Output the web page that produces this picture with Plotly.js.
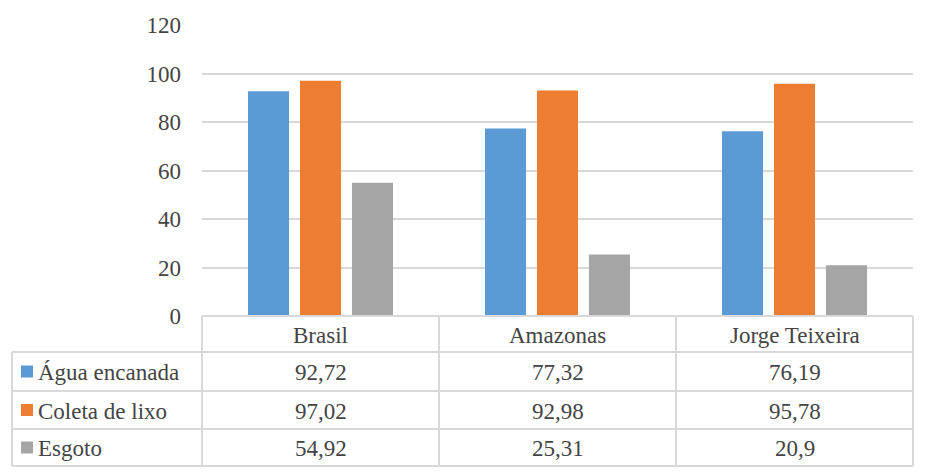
<!DOCTYPE html>
<html>
<head>
<meta charset="utf-8">
<script src="https://cdn.plot.ly/plotly-3.0.1.min.js"></script>
<style>html,body{margin:0;padding:0;background:#fff;}</style>
</head>
<body>
<div id="chart" style="width:932px;height:474px"></div>
<script>
const categories = ["Brasil", "Amazonas", "Jorge Teixeira"];
const seriesNames = ["Água encanada", "Coleta de lixo", "Esgoto"];
const aguaEncanada = [92.72, 77.32, 76.19];
const coletaLixo = [97.02, 92.98, 95.78];
const esgoto = [54.92, 25.31, 20.9];
const yTicks = [0, 20, 40, 60, 80, 100, 120];

const seriesValues = [aguaEncanada, coletaLixo, esgoto];
const colors = ["#5b9bd5", "#ed7d31", "#a5a5a5"];

const W = 932, H = 474;
const L = 202, R = 913, T = 25, B = 316;
const pw = R - L, ph = B - T;
const px = x => (x - L) / pw;
const py = y => (B - y) / ph;

const gridCol = "#d9d9d9";
const serifFont = () => ({family: "Liberation Serif", size: 23});

const traces = seriesValues.map((vals, i) => ({
  type: "bar", x: categories, y: vals, name: seriesNames[i],
  marker: {color: colors[i]}, hoverinfo: "skip"
}));

const fmt = v => String(v).replace(".", ",");

const tableLeft = 12;
const headerBottom = 352;
const rowBottoms = [391, 429, 466];
const rowTops = [headerBottom, rowBottoms[0], rowBottoms[1]];
const colEdge = i => L + i * pw / categories.length;

const shapes = [];
const line = (x0, y0, x1, y1) => shapes.push({
  type: "line", xref: "paper", yref: "paper",
  x0: px(x0), x1: px(x1), y0: py(y0), y1: py(y1),
  line: {color: gridCol, width: 2}
});
line(L, B, R, B);
line(tableLeft, headerBottom, R, headerBottom);
rowBottoms.forEach(y => line(tableLeft, y, R, y));
line(tableLeft, headerBottom, tableLeft, rowBottoms[2]);
for (let i = 0; i <= categories.length; i++) line(colEdge(i), B, colEdge(i), rowBottoms[2]);

seriesNames.forEach((n, s) => {
  const cy = (rowTops[s] + rowBottoms[s]) / 2;
  shapes.push({
    type: "rect", xref: "paper", yref: "paper",
    x0: px(21), x1: px(33), y0: py(cy - 6), y1: py(cy + 6),
    fillcolor: colors[s], line: {width: 0}
  });
});

const annotations = [];
const txt = (x, y, text, anchor) => annotations.push({
  xref: "paper", yref: "paper", x: px(x), y: py(y), text: text,
  showarrow: false, xanchor: anchor || "center", yanchor: "middle", font: serifFont()
});
categories.forEach((c, i) => {
  const cx = (colEdge(i) + colEdge(i + 1)) / 2;
  txt(cx, (B + headerBottom) / 2 + 1, c);
  seriesValues.forEach((vals, s) => {
    txt(cx, (rowTops[s] + rowBottoms[s]) / 2 + 1, fmt(vals[i]));
  });
});
seriesNames.forEach((n, s) => {
  txt(36, (rowTops[s] + rowBottoms[s]) / 2 + 1, n, "left");
});

const layout = {
  width: W, height: H,
  margin: {l: L, r: W - R, t: T, b: H - B, pad: 0},
  showlegend: false,
  barmode: "group", bargap: 0.342, bargroupgap: 0.21,
  xaxis: {showticklabels: false, showgrid: false, zeroline: false, showline: false, ticks: ""},
  yaxis: {
    range: [0, 120], tickvals: yTicks, ticktext: yTicks.map(String),
    showgrid: true, gridcolor: gridCol, gridwidth: 2, zeroline: false, showline: false,
    ticks: "", ticklabelstandoff: 20, tickfont: serifFont()
  },
  shapes: shapes,
  annotations: annotations
};

Plotly.newPlot("chart", traces, layout, {displayModeBar: false});
</script>
</body>
</html>
